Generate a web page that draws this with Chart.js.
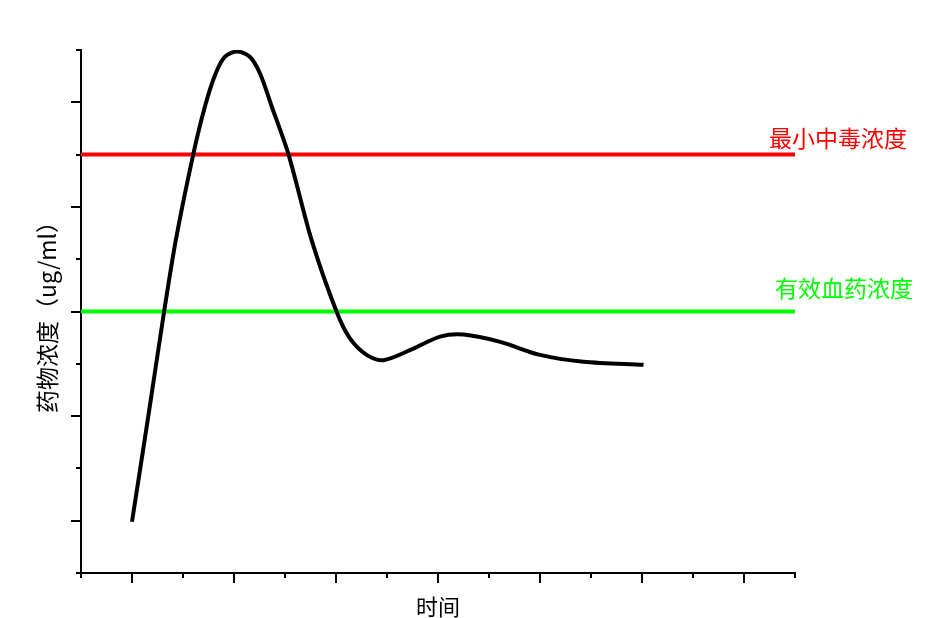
<!DOCTYPE html>
<html>
<head>
<meta charset="utf-8">
<script src="https://cdn.jsdelivr.net/npm/chart.js@4/dist/chart.umd.min.js"></script>
<style>
  html, body { margin: 0; padding: 0; background: #fff; }
  #wrap { width: 932px; height: 618px; }
</style>
</head>
<body>
<div id="wrap"><canvas id="chart"></canvas></div>
<script>
// drug concentration curve (x = time, y = concentration)
const timeValues = [1.0, 1.32, 1.63, 1.86, 2.20, 2.43, 2.64, 2.82, 3.06, 3.31, 3.51, 3.74, 4.07, 4.52, 5.01, 5.27, 5.6, 5.93, 6.45, 7.04, 7.5, 8.22, 9.0, 9.85, 11.03];
const concValues = [0.98, 3.0, 5.0, 6.37, 8.0, 8.92, 9.55, 9.87, 9.97, 9.87, 9.55, 8.92, 8.0, 6.37, 5.0, 4.49, 4.17, 4.07, 4.26, 4.52, 4.56, 4.42, 4.17, 4.04, 3.98];

const toxicLevel = 8;     // 最小中毒浓度
const effectiveLevel = 5; // 有效血药浓度
const xRange = [0, 14];
const yRange = [0, 10];

const curve = timeValues.map((t, i) => ({ x: t, y: concValues[i] }));

// draws long ticks on odd values, short ticks on even ones, plus line labels
const extras = {
    id: 'extras',
    afterDraw(chart) {
        const ctx = chart.ctx;
        const xs = chart.scales.x;
        const ys = chart.scales.y;
        const area = chart.chartArea;
        ctx.save();
        ctx.strokeStyle = '#000';
        ctx.lineWidth = 2;
        xs.ticks.forEach(t => {
            const px = Math.round(xs.getPixelForValue(t.value));
            const len = t.value % 2 === 1 ? 10 : 5;
            ctx.beginPath();
            ctx.moveTo(px, area.bottom);
            ctx.lineTo(px, area.bottom + len);
            ctx.stroke();
        });
        ys.ticks.forEach(t => {
            const py = Math.round(ys.getPixelForValue(t.value));
            const len = t.value % 2 === 1 ? 10 : 5;
            ctx.beginPath();
            ctx.moveTo(area.left, py);
            ctx.lineTo(area.left - len, py);
            ctx.stroke();
        });

        ctx.font = '23px "Noto Sans CJK SC"';
        ctx.textBaseline = 'middle';
        ctx.textAlign = 'left';
        ctx.fillStyle = '#ff0000';
        ctx.fillText('最小中毒浓度', area.right - 26, ys.getPixelForValue(toxicLevel) - 16);
        ctx.fillStyle = '#00ff00';
        ctx.fillText('有效血药浓度', area.right - 20, ys.getPixelForValue(effectiveLevel) - 23);
        ctx.restore();
    }
};

const ctx = document.getElementById('chart').getContext('2d');

new Chart(ctx, {
    type: 'line',
    data: {
        datasets: [
            {
                label: 'curve',
                data: curve,
                borderColor: '#000',
                borderWidth: 4,
                pointRadius: 0,
                tension: 0.3,
                fill: false
            },
            {
                label: '最小中毒浓度',
                data: [{ x: xRange[0], y: toxicLevel }, { x: xRange[1], y: toxicLevel }],
                borderColor: '#ff0000',
                borderWidth: 4,
                pointRadius: 0
            },
            {
                label: '有效血药浓度',
                data: [{ x: xRange[0], y: effectiveLevel }, { x: xRange[1], y: effectiveLevel }],
                borderColor: '#00ff00',
                borderWidth: 4,
                pointRadius: 0
            }
        ]
    },
    options: {
        responsive: true,
        maintainAspectRatio: false,
        animation: false,
        layout: {
            padding: { left: 0, top: 50, right: 137, bottom: 0 }
        },
        plugins: {
            legend: { display: false },
            tooltip: { enabled: false }
        },
        scales: {
            x: {
                type: 'linear',
                min: xRange[0],
                max: xRange[1],
                ticks: { display: false, stepSize: 1 },
                grid: { display: false },
                border: { display: true, color: '#000', width: 2 },
                title: {
                    display: true,
                    text: '时间',
                    color: '#000',
                    font: { family: '"Noto Sans CJK SC"', size: 22 },
                    padding: { top: 0, bottom: -2 }
                },
                afterFit(scale) { scale.height = 45; }
            },
            y: {
                type: 'linear',
                min: yRange[0],
                max: yRange[1],
                ticks: { display: false, stepSize: 1 },
                grid: { display: false },
                border: { display: true, color: '#000', width: 2 },
                title: {
                    display: true,
                    text: '药物浓度（ug/ml）',
                    color: '#000',
                    font: { family: '"Noto Sans CJK SC"', size: 23 },
                    padding: { top: 33, bottom: 0 }
                },
                afterFit(scale) { scale.width = 81; }
            }
        }
    },
    plugins: [extras]
});
</script>
</body>
</html>
